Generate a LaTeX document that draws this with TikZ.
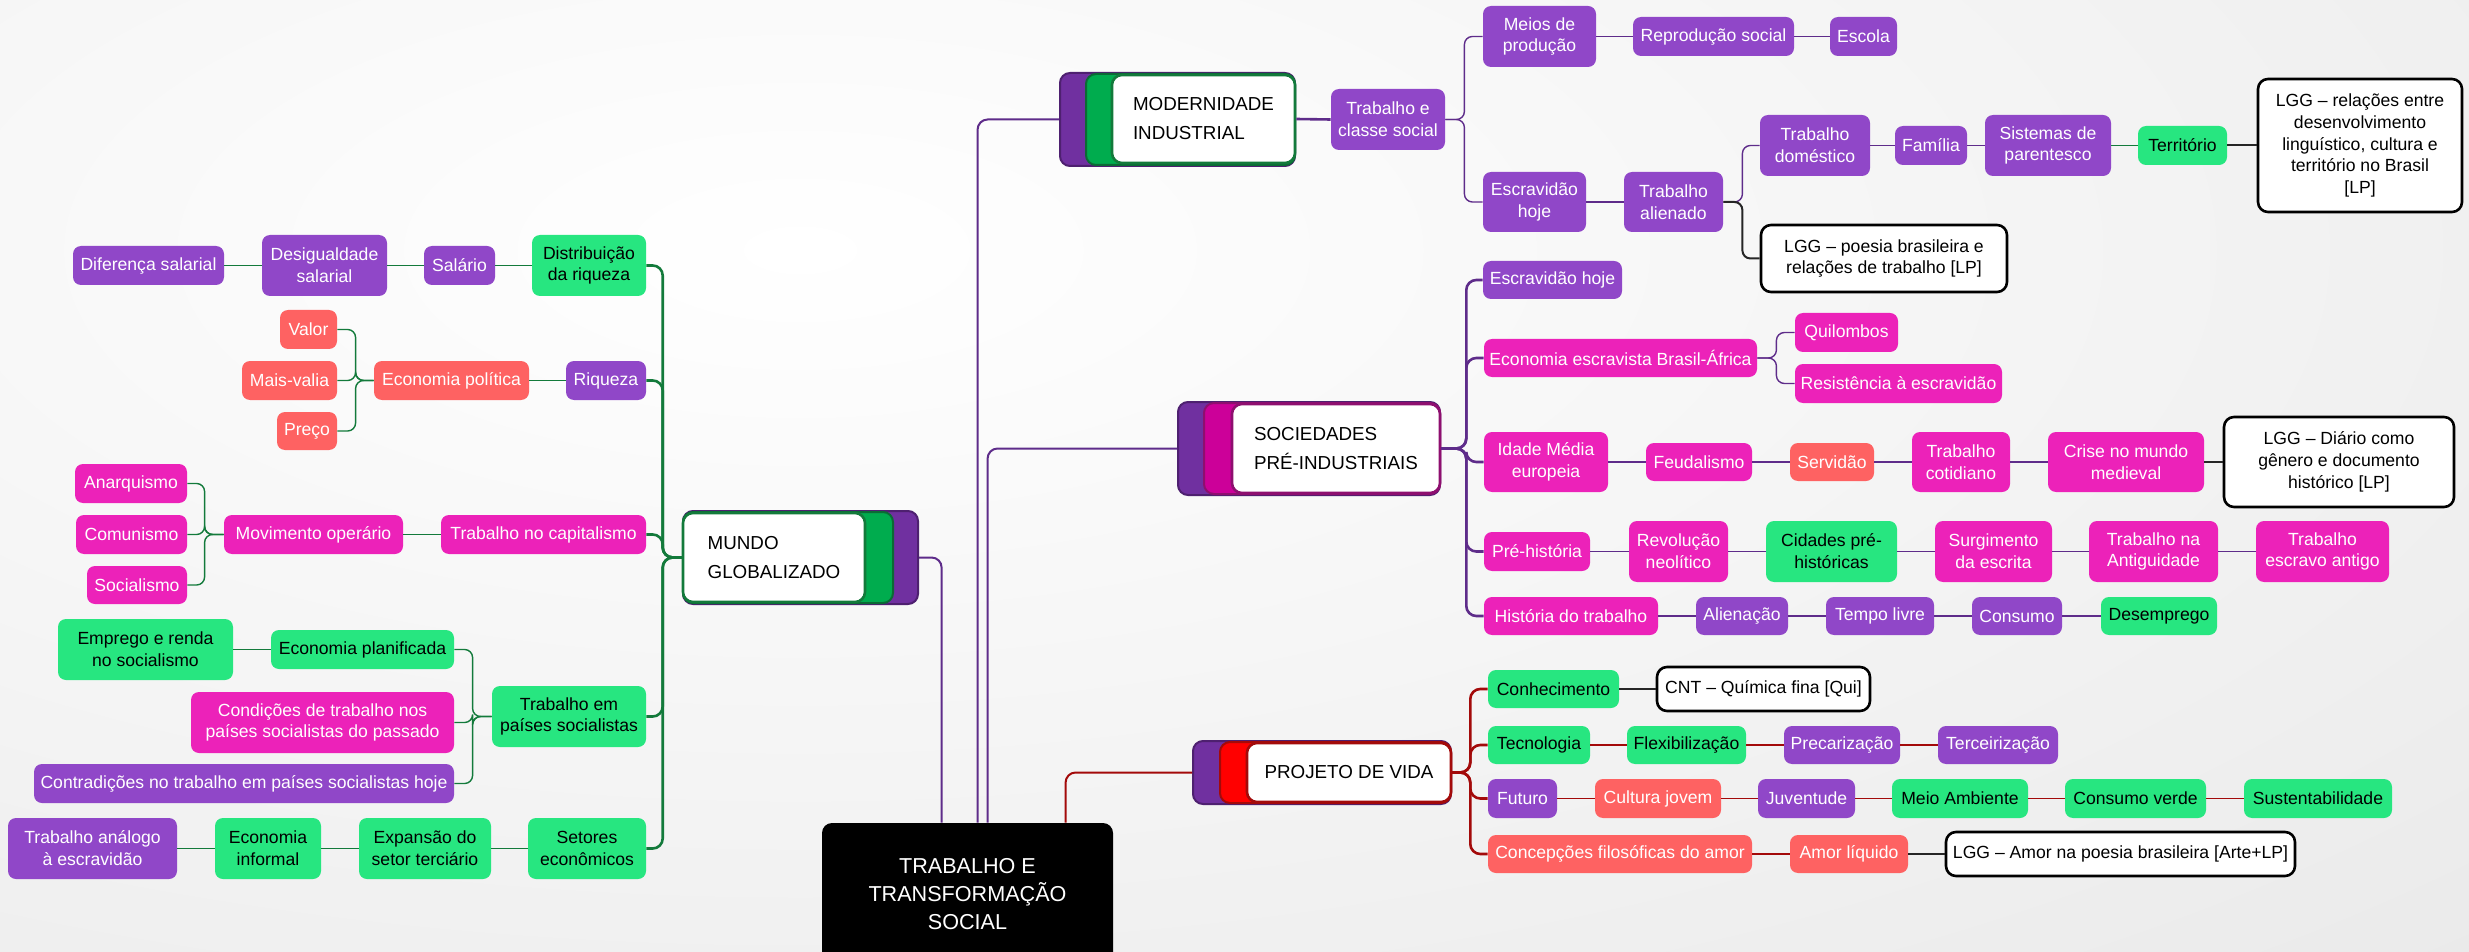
\documentclass[tikz,border=0pt]{standalone}
\usepackage{fontspec}
\setmainfont{Liberation Sans}
\usetikzlibrary{calc}
\definecolor{cPur}{HTML}{9047C8}
\definecolor{cMag}{HTML}{EC22B9}
\definecolor{cGrn}{HTML}{27E680}
\definecolor{cSal}{HTML}{FE6262}
\definecolor{lPur}{HTML}{5E2C8A}
\definecolor{lGrn}{HTML}{137A3B}
\definecolor{lRed}{HTML}{A30A0A}
\definecolor{hPur}{HTML}{7030A0}
\definecolor{hPurD}{HTML}{4E2070}
\definecolor{hGrn}{HTML}{00AC4E}
\definecolor{hGrnD}{HTML}{0B6B35}
\definecolor{hMag}{HTML}{CC0099}
\definecolor{hMagD}{HTML}{8E0F6F}
\definecolor{hRed}{HTML}{FF0000}
\tikzset{
 mbox/.style={rounded corners=4pt, inner sep=0pt, align=center, font=\fontsize{8.8}{10.9}\selectfont},
 pur/.style={mbox, fill=cPur, text=white},
 mag/.style={mbox, fill=cMag, text=white},
 grn/.style={mbox, fill=cGrn, text=black},
 sal/.style={mbox, fill=cSal, text=white},
 lgg/.style={mbox, fill=white, draw=black, line width=1.3pt, rounded corners=5pt},
 hlayer/.style={rounded corners=5pt, inner sep=0pt, line width=1pt},
 hdr/.style={hlayer, fill=white, line width=1.3pt, align=left, font=\fontsize{9.4}{14.5}\selectfont},
 rootbox/.style={rounded corners=5pt, fill=black, text=white, inner sep=0pt, align=center, font=\fontsize{10.8}{14}\selectfont},
 cG/.style={draw=lGrn, line width=0.7pt, rounded corners=4pt},
 cGt/.style={draw=lGrn, line width=1.3pt, rounded corners=5pt},
 cP/.style={draw=lPur, line width=0.7pt, rounded corners=4pt},
 cPt/.style={draw=lPur, line width=1.3pt, rounded corners=5pt},
 cR/.style={draw=lRed, line width=0.7pt, rounded corners=4pt},
 cRt/.style={draw=lRed, line width=1.3pt, rounded corners=5pt},
 cK/.style={draw=black!85, line width=1pt},
}
\newcommand\bx[7]{\node[#6, minimum width={(#4-#2)*0.5pt}, minimum height={(#5-#3)*0.5pt}] (#1) at ({(#2+#4)/2},{(#3+#5)/2}) {#7};}
\newcommand\elR[4][]{\draw[#1] (#2.east) -- ++(#3,0) |- (#4.west);}
\newcommand\elL[4][]{\draw[#1] (#2.west) -- ++(-#3,0) |- (#4.east);}
\begin{document}
\begin{tikzpicture}[x=0.5pt,y=-0.5pt]
\useasboundingbox (0,0) rectangle (2469,952);
\fill[white] (0,0) rectangle (2469,952);
\begin{scope}
\clip (0,0) rectangle (2469,952);
\shade[inner color=white, outer color=black!9] (800,250) ellipse (2600 and 1100);
\end{scope}

% ---------- root ----------
\bx{root}{822}{823}{1113}{965}{rootbox}{TRABALHO E\\TRANSFORMAÇÃO\\SOCIAL}

% ---------- MUNDO GLOBALIZADO ----------
\bx{mundoP}{683}{511}{918}{604}{hlayer, fill=hPur, draw=hPurD}{}
\bx{mundoG}{683}{512}{893}{603}{hlayer, fill=hGrn, draw=hGrnD}{}
\bx{mundoW}{683}{513}{865}{602}{hdr, draw=lGrn}{MUNDO\\GLOBALIZADO}

\bx{dif}{73}{246}{224}{285}{pur}{Diferença salarial}
\bx{desig}{262}{235}{387}{296}{pur}{Desigualdade\\salarial}
\bx{salario}{424}{246}{495}{285}{pur}{Salário}
\bx{distrib}{532}{235}{646}{296}{grn}{Distribuição\\da riqueza}
\bx{valor}{280}{310}{337}{349}{sal}{Valor}
\bx{mais}{242}{361}{337}{400}{sal}{Mais-valia}
\bx{preco}{277}{412}{337}{450}{sal}{Preço}
\bx{econpol}{374}{361}{529}{400}{sal}{Economia política}
\bx{riqueza}{566}{361}{646}{400}{pur}{Riqueza}
\bx{anarq}{75}{464}{187}{503}{mag}{Anarquismo}
\bx{comun}{76}{515}{187}{554}{mag}{Comunismo}
\bx{social}{87}{566}{187}{604}{mag}{Socialismo}
\bx{movop}{224}{515}{403}{554}{mag}{Movimento operário}
\bx{tcap}{441}{515}{646}{554}{mag}{Trabalho no capitalismo}
\bx{emprego}{58}{619}{233}{680}{grn}{Emprego e renda\\no socialismo}
\bx{econplan}{271}{630}{454}{669}{grn}{Economia planificada}
\bx{cond}{191}{692}{454}{753}{mag}{Condições de trabalho nos\\países socialistas do passado}
\bx{contrad}{34}{764}{454}{803}{pur}{Contradições no trabalho em países socialistas hoje}
\bx{tpaises}{492}{686}{646}{747}{grn}{Trabalho em\\países socialistas}
\bx{tanal}{8}{818}{177}{879}{pur}{Trabalho análogo\\à escravidão}
\bx{econinf}{215}{818}{321}{879}{grn}{Economia\\informal}
\bx{expansao}{359}{818}{491}{879}{grn}{Expansão do\\setor terciário}
\bx{setores}{528}{818}{646}{879}{grn}{Setores\\econômicos}

% ---------- MODERNIDADE ----------
\bx{modP}{1060}{73}{1295}{166}{hlayer, fill=hPur, draw=hPurD}{}
\bx{modG}{1086}{74}{1295}{165}{hlayer, fill=hGrn, draw=hGrnD}{}
\bx{modW}{1112}{75}{1295}{163}{hdr, draw=lGrn}{MODERNIDADE\\INDUSTRIAL}

\bx{tcs}{1331}{89}{1445}{150}{pur}{Trabalho e\\classe social}
\bx{meios}{1483}{6}{1596}{67}{pur}{Meios de\\produção}
\bx{reprod}{1633}{17}{1794}{56}{pur}{Reprodução social}
\bx{escola}{1830}{17}{1897}{56}{pur}{Escola}
\bx{escM}{1483}{172}{1586}{232}{pur}{Escravidão\\hoje}
\bx{talien}{1624}{172}{1723}{232}{pur}{Trabalho\\alienado}
\bx{tdom}{1760}{115}{1870}{176}{pur}{Trabalho\\doméstico}
\bx{familia}{1895}{126}{1967}{165}{pur}{Família}
\bx{sistemas}{1985}{115}{2111}{176}{pur}{Sistemas de\\parentesco}
\bx{territorio}{2138}{126}{2227}{165}{grn}{Território}
\bx{lggA}{2258}{79}{2462}{212}{lgg}{LGG – relações entre\\desenvolvimento\\linguístico, cultura e\\território no Brasil\\{[LP]}}
\bx{lggB}{1761}{225}{2007}{292}{lgg}{LGG – poesia brasileira e\\relações de trabalho [LP]}

% ---------- SOCIEDADES ----------
\bx{socP}{1178}{402}{1440}{495}{hlayer, fill=hPur, draw=hPurD}{}
\bx{socM}{1204}{403}{1440}{494}{hlayer, fill=hMag, draw=hMagD}{}
\bx{socW}{1232}{404}{1440}{493}{hdr, draw=hMagD}{SOCIEDADES\\PRÉ-INDUSTRIAIS}

\bx{escS}{1483}{261}{1622}{299}{pur}{Escravidão hoje}
\bx{econEsc}{1484}{339}{1757}{377}{mag}{Economia escravista Brasil-África}
\bx{quil}{1795}{313}{1898}{352}{mag}{Quilombos}
\bx{resist}{1795}{364}{2002}{403}{mag}{Resistência à escravidão}
\bx{idade}{1484}{432}{1608}{492}{mag}{Idade Média\\europeia}
\bx{feud}{1646}{443}{1752}{481}{mag}{Feudalismo}
\bx{servidao}{1790}{443}{1874}{481}{sal}{Servidão}
\bx{tcot}{1912}{432}{2010}{492}{mag}{Trabalho\\cotidiano}
\bx{crise}{2048}{432}{2204}{492}{mag}{Crise no mundo\\medieval}
\bx{lggD}{2224}{417}{2454}{507}{lgg}{LGG – Diário como\\gênero e documento\\histórico [LP]}
\bx{pre}{1484}{532}{1590}{571}{mag}{Pré-história}
\bx{revol}{1629}{521}{1728}{582}{mag}{Revolução\\neolítico}
\bx{cidades}{1766}{521}{1897}{582}{grn}{Cidades pré-\\históricas}
\bx{surg}{1935}{521}{2052}{582}{mag}{Surgimento\\da escrita}
\bx{tant}{2089}{521}{2218}{582}{mag}{Trabalho na\\Antiguidade}
\bx{tesc}{2256}{521}{2389}{582}{mag}{Trabalho\\escravo antigo}
\bx{hist}{1484}{597}{1658}{635}{mag}{História do trabalho}
\bx{alien}{1696}{597}{1788}{635}{pur}{Alienação}
\bx{tlivre}{1826}{597}{1934}{635}{pur}{Tempo livre}
\bx{consumo}{1972}{597}{2062}{635}{pur}{Consumo}
\bx{desemp}{2101}{597}{2217}{635}{grn}{Desemprego}

% ---------- PROJETO DE VIDA ----------
\bx{projP}{1193}{741}{1451}{804}{hlayer, fill=hPur, draw=hPurD}{}
\bx{projR}{1220}{742}{1451}{803}{hlayer, fill=hRed, draw=lRed}{}
\bx{projW}{1247}{743}{1451}{802}{hdr, draw=lRed}{PROJETO DE VIDA}

\bx{conh}{1488}{670}{1619}{708}{grn}{Conhecimento}
\bx{cnt}{1657}{667}{1870}{711}{lgg}{CNT – Química fina [Qui]}
\bx{tec}{1488}{726}{1590}{764}{grn}{Tecnologia}
\bx{flex}{1627}{726}{1746}{764}{grn}{Flexibilização}
\bx{prec}{1784}{726}{1900}{764}{pur}{Precarização}
\bx{terc}{1938}{726}{2058}{764}{pur}{Terceirização}
\bx{fut}{1488}{779}{1557}{818}{pur}{Futuro}
\bx{cult}{1595}{779}{1721}{818}{sal}{Cultura jovem}
\bx{juv}{1758}{779}{1855}{818}{pur}{Juventude}
\bx{meio}{1892}{779}{2028}{818}{grn}{Meio Ambiente}
\bx{consv}{2065}{779}{2206}{818}{grn}{Consumo verde}
\bx{sust}{2244}{779}{2392}{818}{grn}{Sustentabilidade}
\bx{concep}{1488}{835}{1752}{873}{sal}{Concepções filosóficas do amor}
\bx{amor}{1790}{835}{1908}{873}{sal}{Amor líquido}
\bx{lggE}{1946}{832}{2295}{876}{lgg}{LGG – Amor na poesia brasileira [Arte+LP]}

% ---------- root connectors ----------
\draw[draw=lPur, line width=1pt, rounded corners=5pt] ([xshift=60pt]root.north west) |- (mundoP.east);
\draw[draw=lPur, line width=1pt, rounded corners=5pt] ([xshift=78pt]root.north west) |- (modP.west);
\draw[draw=lPur, line width=1pt, rounded corners=5pt] ([xshift=83pt]root.north west) |- (socP.west);
\draw[draw=lRed, line width=1pt, rounded corners=5pt] ([xshift=122pt]root.north west) |- (projP.west);

% ---------- mundo connectors ----------
\foreach \c in {distrib,riqueza,tcap,tpaises,setores} {\elL[cGt]{mundoW}{19}{\c}}
\draw[cG] (distrib.west) -- (salario.east);
\draw[cG] (salario.west) -- (desig.east);
\draw[cG] (desig.west) -- (dif.east);
\draw[cG] (riqueza.west) -- (econpol.east);
\foreach \c in {valor,mais,preco} {\elL[cG]{econpol}{18}{\c}}
\draw[cG] (tcap.west) -- (movop.east);
\foreach \c in {anarq,comun,social} {\elL[cG]{movop}{19}{\c}}
\foreach \c in {econplan,cond,contrad} {\elL[cG]{tpaises}{19}{\c}}
\draw[cG] (econplan.west) -- (emprego.east);
\draw[cG] (setores.west) -- (expansao.east);
\draw[cG] (expansao.west) -- (econinf.east);
\draw[cG] (econinf.west) -- (tanal.east);

% ---------- modernidade connectors ----------
\draw[cPt] (modW.east) -- (tcs.west);
\foreach \c in {meios,escM} {\elR[cP]{tcs}{19}{\c}}
\draw[cP] (meios.east) -- (reprod.west);
\draw[cP] (reprod.east) -- (escola.west);
\draw[cP] (escM.east) -- (talien.west);
\elR[cP]{talien}{19}{tdom}
\elR[cK, rounded corners=4pt]{talien}{19}{lggB}
\draw[cP] (tdom.east) -- (familia.west);
\draw[cP] (familia.east) -- (sistemas.west);
\draw[cG] (sistemas.east) -- (territorio.west);
\draw[cK] (territorio.east) -- (lggA.west);

% ---------- sociedades connectors ----------
\foreach \c in {escS,econEsc,idade,pre,hist} {\elR[cPt]{socW}{25}{\c}}
\foreach \c in {quil,resist} {\elR[cP]{econEsc}{19}{\c}}
\draw[cP] (idade.east) -- (feud.west);
\draw[cP] (feud.east) -- (servidao.west);
\draw[cP] (servidao.east) -- (tcot.west);
\draw[cP] (tcot.east) -- (crise.west);
\draw[cK] (crise.east) -- (lggD.west);
\draw[cP] (pre.east) -- (revol.west);
\draw[cP] (revol.east) -- (cidades.west);
\draw[cP] (cidades.east) -- (surg.west);
\draw[cP] (surg.east) -- (tant.west);
\draw[cP] (tant.east) -- (tesc.west);
\draw[cP] (hist.east) -- (alien.west);
\draw[cP] (alien.east) -- (tlivre.west);
\draw[cP] (tlivre.east) -- (consumo.west);
\draw[cP] (consumo.east) -- (desemp.west);

% ---------- projeto connectors ----------
\foreach \c in {conh,tec,fut,concep} {\elR[cRt]{projW}{18}{\c}}
\draw[cK] (conh.east) -- (cnt.west);
\draw[cR] (tec.east) -- (flex.west);
\draw[cR] (flex.east) -- (prec.west);
\draw[cR] (prec.east) -- (terc.west);
\draw[cR] (fut.east) -- (cult.west);
\draw[cR] (cult.east) -- (juv.west);
\draw[cR] (juv.east) -- (meio.west);
\draw[cR] (meio.east) -- (consv.west);
\draw[cR] (consv.east) -- (sust.west);
\draw[cR] (concep.east) -- (amor.west);
\draw[cK] (amor.east) -- (lggE.west);
\end{tikzpicture}
\end{document}
